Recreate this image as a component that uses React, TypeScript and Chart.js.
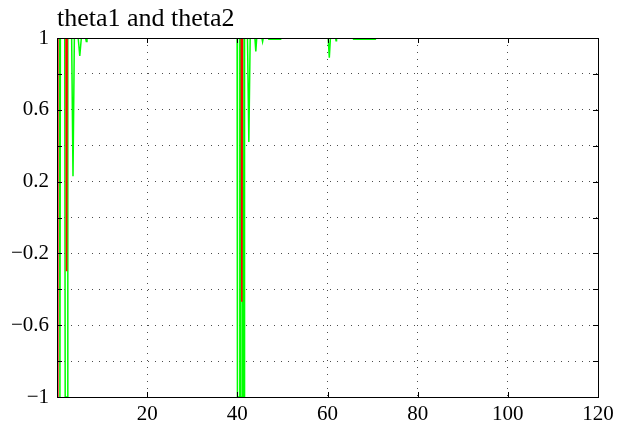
import React, { useEffect, useRef } from 'react';
import { Chart, registerables } from 'chart.js';

Chart.register(...registerables);

// theta1 (red): time stamps and values
const theta1Time = [0, 0.2, 2.0, 2.12, 2.24, 40.88, 41.0, 41.12, 120];
const theta1Values = [-1, 1, 1, -0.3, 1, 1, -0.47, 1, 1];

// theta2 (green): time stamps and values
const theta2Time = [
  0, 0.55, 0.65, 0.75, 1.72, 1.82, 2.3, 2.4, 3.25, 3.55, 3.85, 4.7, 5.05, 5.4,
  6.35, 6.5, 6.65, 39.95, 40.02, 40.45, 40.55, 40.72, 40.8, 41.1, 41.2, 41.35,
  41.5, 41.6, 42.25, 42.55, 42.85, 43.9, 44.1, 44.3, 45.45, 45.6, 45.75, 46.8,
  47.0, 49.6, 49.8, 60.15, 60.4, 60.65, 61.8, 61.9, 62.0, 65.6, 65.8, 70.6,
  70.8, 120,
];
const theta2Values = [
  1, 1, -1, 1, 1, -1, -1, 1, 1, 0.23, 1, 1, 0.9, 1,
  1, 0.98, 1, 1, -1, -1, 1, 1, -1, -1, 1, -1,
  -1, 1, 1, 0.42, 1, 1, 0.925, 1, 1, 0.98, 1, 1,
  0.993, 0.993, 1, 1, 0.89, 1, 1, 0.985, 1, 1, 0.993, 0.993,
  1, 1,
];

// axis ticks
const xTicks = [0, 20, 40, 60, 80, 100, 120];
const xTickLabels = ['', '20', '40', '60', '80', '100', '120'];
const yTicks = [-1, -0.8, -0.6, -0.4, -0.2, 0, 0.2, 0.4, 0.6, 0.8, 1];
const yLabelled = [1, 0.6, 0.2, -0.2, -0.6, -1];
const yLabelText = ['1', '0.6', '0.2', '\u22120.2', '\u22120.6', '\u22121'];

const titleText = 'theta1 and theta2';
const serif = '"Liberation Serif", "Times New Roman", serif';

const toPoints = (t: number[], v: number[]) => t.map((x, i) => ({ x, y: v[i] }));

// box frame with inward tick marks, drawn over the curves
const framePlugin = {
  id: 'frame',
  afterDatasetsDraw(chart: any) {
    const { ctx, chartArea } = chart;
    const { left, right, top, bottom } = chartArea;
    const xs = chart.scales.x;
    const ys = chart.scales.y;
    const tick = 5;
    ctx.save();
    ctx.strokeStyle = '#000';
    ctx.lineWidth = 1;
    ctx.beginPath();
    xTicks.forEach((v) => {
      const px = Math.round(xs.getPixelForValue(v)) + 0.5;
      ctx.moveTo(px, bottom);
      ctx.lineTo(px, bottom - tick);
      ctx.moveTo(px, top);
      ctx.lineTo(px, top + tick);
    });
    yTicks.forEach((v) => {
      const py = Math.round(ys.getPixelForValue(v)) + 0.5;
      ctx.moveTo(left, py);
      ctx.lineTo(left + tick, py);
      ctx.moveTo(right, py);
      ctx.lineTo(right - tick, py);
    });
    ctx.stroke();
    ctx.strokeRect(Math.round(left) + 0.5, Math.round(top) + 0.5, Math.round(right - left), Math.round(bottom - top));
    ctx.restore();
  },
};

export default function App() {
  const canvasRef = useRef<HTMLCanvasElement>(null);

  useEffect(() => {
    const canvas = canvasRef.current;
    if (!canvas) return;
    const gridColor = 'rgba(0,0,0,0.7)';
    const chart = new Chart(canvas, {
      type: 'line',
      data: {
        datasets: [
          {
            label: 'theta1',
            data: toPoints(theta1Time, theta1Values),
            borderColor: '#ff0000',
            borderWidth: 1.5,
            pointRadius: 0,
            tension: 0,
            fill: false,
          },
          {
            label: 'theta2',
            data: toPoints(theta2Time, theta2Values),
            borderColor: '#00ff00',
            borderWidth: 1.5,
            pointRadius: 0,
            tension: 0,
            fill: false,
          },
        ],
      },
      options: {
        animation: false,
        responsive: false,
        maintainAspectRatio: false,
        devicePixelRatio: 1,
        parsing: false,
        layout: { padding: { left: 0, right: 23, top: 0, bottom: 0 } },
        plugins: {
          legend: { display: false },
          tooltip: { enabled: false },
          title: {
            display: true,
            text: titleText,
            align: 'start',
            fullSize: false,
            color: '#000',
            font: { family: serif, size: 26, weight: 'normal', lineHeight: 1.2 },
            padding: { top: 3.5, bottom: 3.3 },
          },
        },
        scales: {
          x: {
            type: 'linear',
            min: 0,
            max: 120,
            afterFit: (scale: any) => {
              scale.height = 32;
            },
            afterBuildTicks: (scale: any) => {
              scale.ticks = xTicks.map((value) => ({ value }));
            },
            ticks: {
              autoSkip: false,
              maxRotation: 0,
              padding: 5,
              color: '#000',
              font: { family: serif, size: 21 },
              callback: (value: any) => {
                const i = xTicks.indexOf(Number(value));
                return i >= 0 ? xTickLabels[i] : '';
              },
            },
            grid: {
              drawTicks: false,
              lineWidth: 1,
              color: (c: any) => {
                const v = c.tick ? c.tick.value : null;
                return v !== null && v > 0 && v < 120 ? gridColor : 'rgba(0,0,0,0)';
              },
            },
            border: { display: false, dash: [1, 6] },
          },
          y: {
            type: 'linear',
            min: -1,
            max: 1,
            afterFit: (scale: any) => {
              scale.width = 57;
            },
            afterBuildTicks: (scale: any) => {
              scale.ticks = yTicks.map((value) => ({ value }));
            },
            ticks: {
              autoSkip: false,
              padding: 8,
              color: '#000',
              font: { family: serif, size: 21 },
              callback: (value: any) => {
                const i = yLabelled.findIndex((v) => Math.abs(v - Number(value)) < 1e-6);
                return i >= 0 ? yLabelText[i] : '';
              },
            },
            grid: {
              drawTicks: false,
              lineWidth: 1,
              color: (c: any) => {
                const v = c.tick ? c.tick.value : null;
                return v !== null && Math.abs(v) < 0.999 ? gridColor : 'rgba(0,0,0,0)';
              },
            },
            border: { display: false, dash: [1, 6] },
          },
        },
      },
      plugins: [framePlugin],
    });
    return () => chart.destroy();
  }, []);

  return (
    <div style={{ position: 'absolute', left: 0, top: 0, width: 621, height: 429, background: '#fff' }}>
      <canvas ref={canvasRef} width={621} height={429} style={{ display: 'block', width: 621, height: 429 }} />
    </div>
  );
}
